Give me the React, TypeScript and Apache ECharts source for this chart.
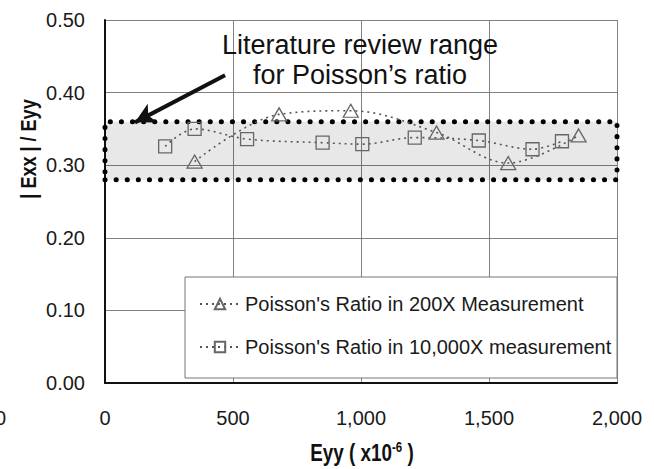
import React, { useEffect, useRef } from "react";
import * as echarts from "echarts";

// ---- data ----
const tri200X_x = [350, 680, 960, 1295, 1575, 1850];
const tri200X_y = [0.305, 0.37, 0.375, 0.345, 0.303, 0.341];
const sq10000X_x = [235, 350, 555, 850, 1005, 1210, 1460, 1670, 1785];
const sq10000X_y = [0.326, 0.35, 0.336, 0.331, 0.329, 0.338, 0.334, 0.322, 0.333];
const literatureRange = [0.28, 0.36];
const xTicks = { min: 0, max: 2000, interval: 500 };
const yTicks = { min: 0, max: 0.5, interval: 0.1 };
const arrowFrom = [469, 0.424];
const arrowTo = [117, 0.359];
const seriesNames = [
  "Poisson's Ratio in 200X Measurement",
  "Poisson's Ratio in 10,000X measurement",
];
const annotation = "Literature review range\nfor Poisson\u2019s ratio";

const ARIAL = "'Liberation Sans', Arial, sans-serif";

export default function App() {
  const ref = useRef<HTMLDivElement>(null);
  useEffect(() => {
    document.body.style.margin = "0";
    if (!ref.current) return;
    const chart = echarts.init(ref.current, null, { renderer: "svg" });
    const lineCommon = {
      type: "line" as const,
      smooth: 0.35,
      showSymbol: true,
      lineStyle: { color: "#555", width: 1.6, type: [2, 4] as any },
      itemStyle: { color: "rgba(255,255,255,0)", borderColor: "#666", borderWidth: 1.3 },
      emphasis: { disabled: true },
      z: 2,
    };
    chart.setOption({
      animation: false,
      backgroundColor: "#fff",
      grid: { left: 105, top: 20, right: 37, bottom: 86, containLabel: false },
      xAxis: {
        type: "value",
        min: xTicks.min,
        max: xTicks.max,
        interval: xTicks.interval,
        axisLine: { show: true, onZero: false, lineStyle: { color: "#111", width: 2 } },
        axisTick: { show: false },
        splitLine: { show: true, lineStyle: { color: "#808080", width: 1 } },
        axisLabel: {
          margin: 25,
          fontFamily: ARIAL,
          fontSize: 20,
          color: "#1a1a1a",
          formatter: (v: number) => v.toLocaleString("en-US"),
        },
      },
      yAxis: {
        type: "value",
        min: yTicks.min,
        max: yTicks.max,
        interval: yTicks.interval,
        axisLine: { show: true, onZero: false, lineStyle: { color: "#111", width: 2 } },
        axisTick: { show: false },
        splitLine: { show: true, lineStyle: { color: "#808080", width: 1 } },
        axisLabel: {
          margin: 20,
          fontFamily: ARIAL,
          fontSize: 20,
          color: "#1a1a1a",
          formatter: (v: number) => v.toFixed(2),
        },
      },
      legend: {
        orient: "vertical",
        left: 194,
        top: 289,
        itemWidth: 40,
        itemHeight: 13,
        itemGap: 23,
        z: 6,
        textStyle: { fontFamily: ARIAL, fontSize: 20, color: "#1a1a1a" },
        data: seriesNames,
      },
      series: [
        {
          ...lineCommon,
          name: seriesNames[0],
          symbol: "triangle",
          symbolSize: [15, 13],
          data: tri200X_x.map((x, i) => [x, tri200X_y[i]]),
          markLine: {
            silent: true,
            symbol: ["none", "arrow"],
            symbolSize: [16, 20],
            label: { show: false },
            lineStyle: { color: "#111", width: 4, type: "solid" },
            data: [[{ coord: arrowFrom }, { coord: arrowTo }]],
            z: 5,
          },
        },
        {
          ...lineCommon,
          name: seriesNames[1],
          symbol: "rect",
          symbolSize: 13,
          data: sq10000X_x.map((x, i) => [x, sq10000X_y[i]]),
          markArea: {
            silent: true,
            label: { show: false },
            itemStyle: {
              color: "rgba(0,0,0,0.09)",
              borderColor: "#000",
              borderWidth: 5,
              borderType: [0.1, 11],
              borderCap: "round",
            },
            data: [
              [
                { xAxis: xTicks.min, yAxis: literatureRange[0] },
                { xAxis: xTicks.max, yAxis: literatureRange[1] },
              ],
            ],
          },
        },
      ],
      graphic: [
        {
          type: "rect",
          z: 5,
          shape: { x: 185, y: 277, width: 432, height: 101 },
          style: { fill: "#fff", stroke: "#777", lineWidth: 1 },
        },
        {
          type: "text",
          z: 6,
          x: 360,
          y: 30,
          style: {
            text: annotation,
            font: `27px ${ARIAL}`,
            fill: "#111",
            align: "center",
            textAlign: "center",
            verticalAlign: "top",
            textVerticalAlign: "top",
            lineHeight: 30,
          } as any,
        },
        {
          type: "text",
          z: 6,
          x: 28,
          y: 149,
          rotation: Math.PI / 2,
          scaleX: 0.82,
          style: {
            text: "| Exx | / Eyy",
            font: `bold 22px ${ARIAL}`,
            fill: "#111",
            align: "center",
            textAlign: "center",
            verticalAlign: "middle",
            textVerticalAlign: "middle",
          } as any,
        },
        {
          type: "text",
          z: 6,
          x: 362,
          y: 453,
          scaleX: 0.82,
          style: {
            text: "Eyy ( x10{sup|-6} )",
            font: `bold 23px ${ARIAL}`,
            fill: "#111",
            align: "center",
            textAlign: "center",
            verticalAlign: "middle",
            textVerticalAlign: "middle",
            rich: {
              sup: {
                font: `bold 14px ${ARIAL}`,
                fill: "#111",
                verticalAlign: "top",
                padding: [0, 0, 12, 0],
              },
            },
          } as any,
        },
        {
          type: "text",
          z: 6,
          x: -5,
          y: 418,
          style: {
            text: "0",
            font: `20px ${ARIAL}`,
            fill: "#1a1a1a",
            verticalAlign: "middle",
            textVerticalAlign: "middle",
          } as any,
        },
      ],
    });
    return () => chart.dispose();
  }, []);
  return <div ref={ref} style={{ width: 654, height: 469 }} />;
}
